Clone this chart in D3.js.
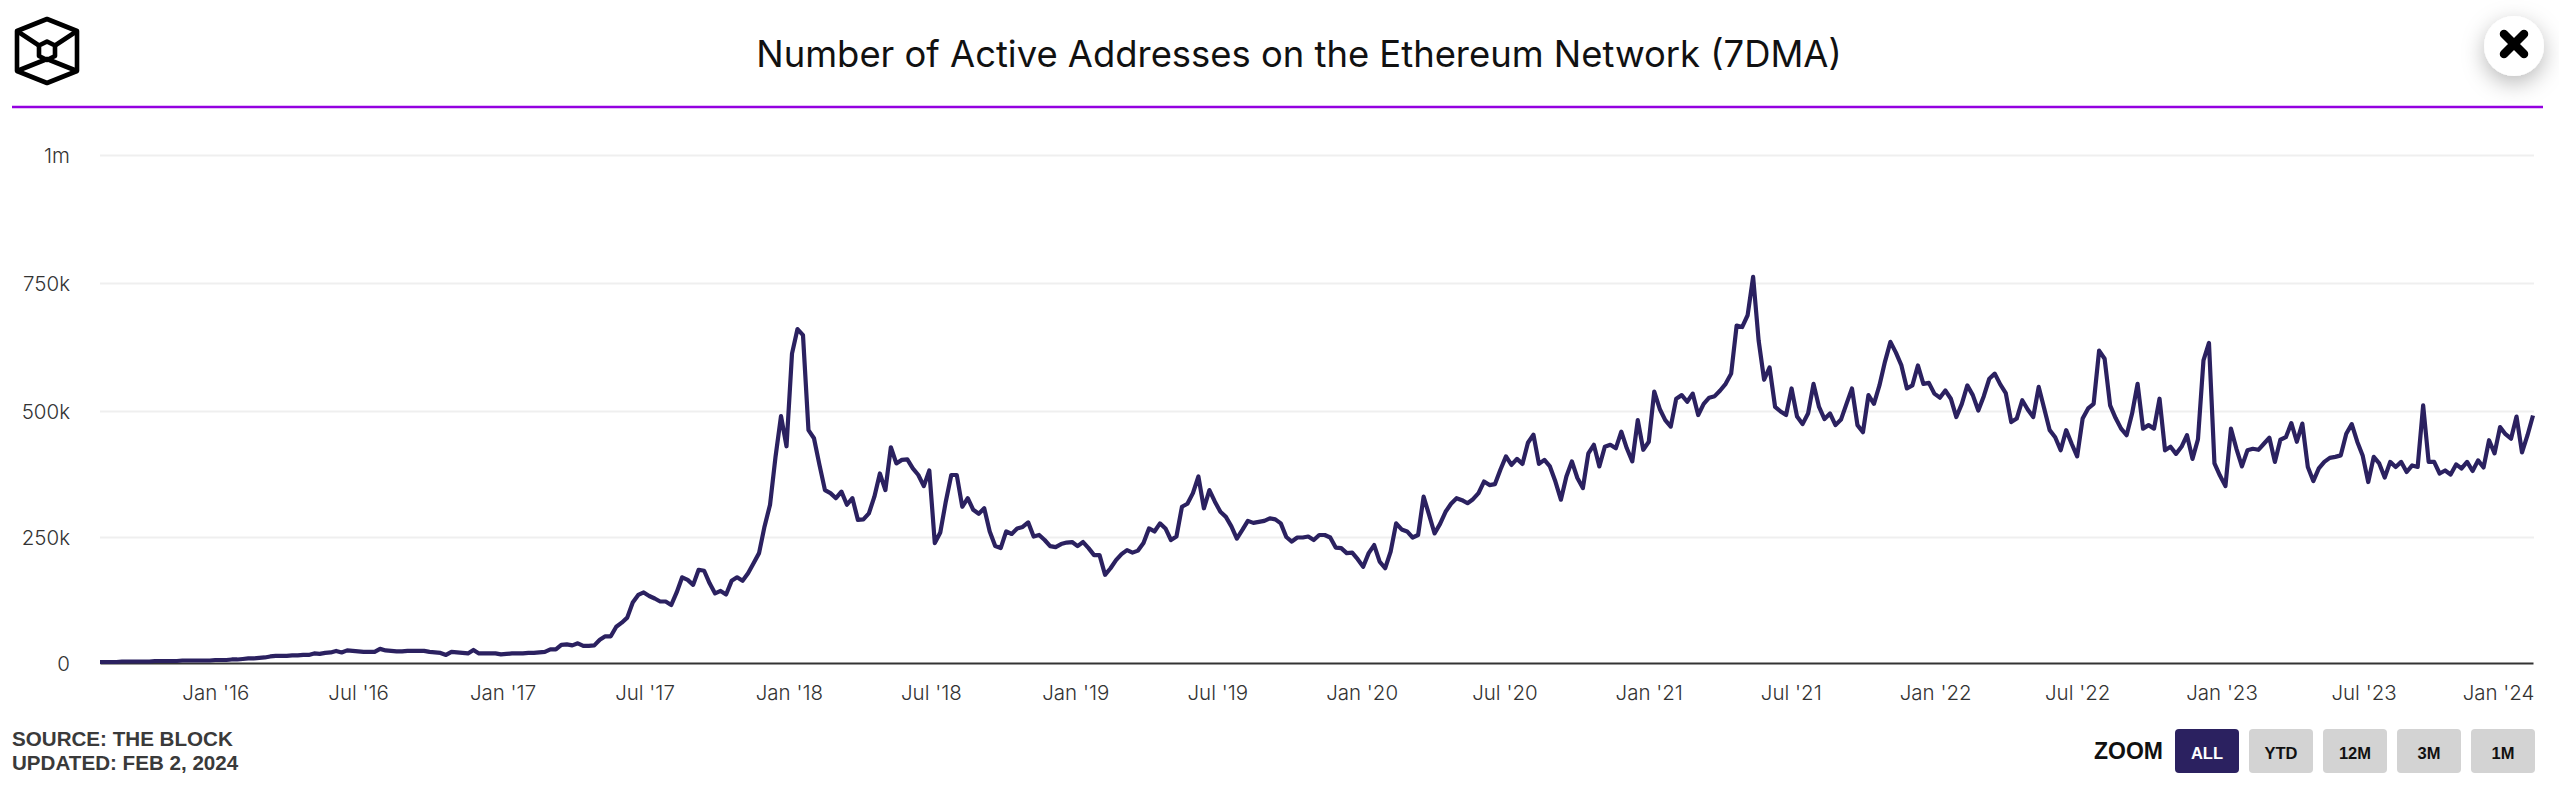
<!DOCTYPE html>
<html>
<head>
<meta charset="utf-8">
<script src="https://cdn.jsdelivr.net/npm/d3@7"></script>
<style>
    html, body { margin: 0; padding: 0; background: #fff; }
    svg { display: block; }
    .x-axis text, .y-axis text { font-family: "Inter", sans-serif; font-weight: 300; font-size: 20.5px; fill: #333; }
</style>
</head>
<body>
<div id="chart"></div>
<script>
// Weekly readings of the 7DMA, in thousands of addresses
const activeAddresses = [
    2,2,2,2,3,3,3,3,3,3,4,4,4,4,4,5,5,5,5,5,
    5,6,6,6,7,7,8,9,9,10,11,13,14,14,14,15,15,16,16,19,
    18,20,21,24,21,25,24,23,22,22,22,28,25,24,23,23,24,24,24,24,
    22,21,20,16,22,21,20,19,26,19,19,19,19,17,18,19,19,19,20,20,
    21,22,27,27,36,37,35,39,34,34,35,46,53,53,72,80,90,120,135,140,
    133,128,122,122,115,140,170,165,155,185,183,158,138,143,136,163,170,163,178,198,
    218,271,314,409,490,430,612,660,648,462,446,393,343,337,327,340,314,327,284,285,
    297,330,376,343,428,396,403,404,386,373,351,382,238,259,320,373,373,310,327,304,
    296,307,261,232,228,261,256,267,270,279,251,254,244,232,230,236,239,240,232,240,
    228,214,214,175,188,204,216,224,219,223,238,267,261,277,267,244,251,310,316,337,
    370,307,343,320,300,290,271,247,264,282,278,280,282,287,285,277,250,241,249,249,
    251,244,254,254,249,229,228,218,219,206,191,218,234,201,188,221,277,265,261,249,
    254,330,294,257,276,300,316,327,323,317,325,337,360,353,355,384,410,393,405,395,
    437,453,395,403,390,360,324,370,400,367,347,416,433,390,429,433,426,459,426,400,
    482,423,439,538,504,482,469,524,531,518,534,492,514,526,529,540,553,573,667,664,
    687,762,638,561,585,508,499,492,544,489,474,495,553,508,484,495,472,483,514,544,
    472,458,531,514,550,596,635,614,589,544,550,589,553,555,534,526,540,524,488,514,
    550,531,501,529,563,573,552,535,478,485,521,503,488,547,505,462,448,422,462,435,
    410,485,505,514,618,602,511,486,465,452,495,553,465,472,465,524,422,429,415,429,
    452,405,444,599,633,396,372,351,465,425,390,422,425,423,435,447,399,443,448,476,
    439,475,389,361,386,399,407,409,412,455,474,439,411,359,409,396,368,399,389,399,
    379,392,389,511,399,399,376,382,374,394,386,399,381,402,388,442,416,468,454,445,
    489,418,452,491
];

const yTicks = [0, 250, 500, 750, 1000];
const yTickLabels = ["0", "250k", "500k", "750k", "1m"];
const xTickDates = [
    "2016-01-01", "2016-07-01", "2017-01-01", "2017-07-01", "2018-01-01", "2018-07-01",
    "2019-01-01", "2019-07-01", "2020-01-01", "2020-07-01", "2021-01-01", "2021-07-01",
    "2022-01-01", "2022-07-01", "2023-01-01", "2023-07-01", "2024-01-01"
];
const zoomButtons = ["ALL", "YTD", "12M", "3M", "1M"];

// Define color constants
const LINE_COLOR = "#2b2160";
const RULE_COLOR = "#9400e0";
const GRID_COLOR = "#efefef";
const AXIS_COLOR = "#333333";
const BUTTON_COLOR = "#d3d3d3";

const width = 2559, height = 798;
const plotLeft = 100, plotRight = 2533, plotTop = 155, plotBottom = 663;

const weeks = d3.utcFriday.range(new Date(Date.UTC(2015, 7, 7)), new Date(Date.UTC(2024, 1, 3)));

var svg = d3.select("#chart")
    .append("svg")
    .attr("width", width)
    .attr("height", height);

var defs = svg.append("defs");
var shadow = defs.append("filter").attr("id", "btn-shadow")
    .attr("x", "-60%").attr("y", "-60%").attr("width", "220%").attr("height", "220%");
shadow.append("feDropShadow")
    .attr("dx", 0).attr("dy", 7).attr("stdDeviation", 11)
    .attr("flood-color", "#000").attr("flood-opacity", 0.28);

var xScale = d3.scaleUtc()
    .domain([weeks[0], weeks[weeks.length - 1]])
    .range([plotLeft, plotRight]);

// the gridlines in the picture are not quite evenly spaced
var yScale = d3.scaleLinear()
    .domain(yTicks)
    .range([plotBottom, 537, 411, 283, plotTop]);

// y axis + gridlines
var yAxis = svg.append("g")
    .attr("class", "y-axis")
    .attr("transform", `translate(${plotLeft}, 0)`)
    .call(d3.axisLeft(yScale)
        .tickValues(yTicks.slice(1))
        .tickSize(-(plotRight + 1 - plotLeft))
        .tickPadding(30)
        .tickFormat(d => yTickLabels[yTicks.indexOf(d)]));
yAxis.select(".domain").remove();
yAxis.selectAll("line").attr("stroke", GRID_COLOR).attr("stroke-width", 2);
yAxis.selectAll("text").attr("dy", "0.38em");

svg.append("text")
    .attr("class", "y-zero")
    .attr("x", 70)
    .attr("y", 671)
    .attr("text-anchor", "end")
    .style("font-family", "Inter, sans-serif")
    .style("font-weight", 300)
    .style("font-size", "20.5px")
    .style("fill", "#333")
    .text(yTickLabels[0]);

// x axis
var xAxis = svg.append("g")
    .attr("class", "x-axis")
    .attr("transform", `translate(0, ${plotBottom})`)
    .call(d3.axisBottom(xScale)
        .tickValues(xTickDates.map(d => new Date(d)))
        .tickSize(0)
        .tickPadding(22)
        .tickFormat(d3.utcFormat("%b '%y")));
xAxis.select(".domain")
    .attr("stroke", AXIS_COLOR)
    .attr("stroke-width", 2);

// last label gets pushed in so it stops at the plot edge
xAxis.selectAll(".tick").filter((d, i) => i === xTickDates.length - 1)
    .select("text")
    .attr("text-anchor", "end")
    .attr("x", d => plotRight + 1 - xScale(d));

var line = d3.line()
    .x((d, i) => xScale(weeks[i]))
    .y(d => yScale(d));

svg.append("path")
    .datum(activeAddresses)
    .attr("fill", "none")
    .attr("stroke", LINE_COLOR)
    .attr("stroke-width", 4.2)
    .attr("stroke-linejoin", "round")
    .attr("d", line);

// header
svg.append("text")
    .attr("x", 1299)
    .attr("y", 67)
    .attr("text-anchor", "middle")
    .style("font-family", "Inter, sans-serif")
    .style("font-weight", 400)
    .style("font-size", "36.4px")
    .style("fill", "#111")
    .text("Number of Active Addresses on the Ethereum Network (7DMA)");

svg.append("line")
    .attr("x1", 12).attr("x2", 2543)
    .attr("y1", 107).attr("y2", 107)
    .attr("stroke", RULE_COLOR)
    .attr("stroke-width", 2.4);

// logo
var logo = svg.append("g")
    .attr("fill", "none")
    .attr("stroke", "#000")
    .attr("stroke-width", 4.6)
    .attr("stroke-linejoin", "round");
logo.append("path").attr("d", "M47,19 L77,31 L77,71 L47,83 L17,71 L17,31 Z");
logo.append("path").attr("d", "M47,41.5 L55,45.5 L55,56 L47,60 L39,56 L39,45.5 Z");
logo.append("path").attr("d", "M17,31 L39,45.5 M77,31 L55,45.5 M17,71 L47,59 L77,71");

// close button
svg.append("circle")
    .attr("cx", 2514).attr("cy", 46).attr("r", 30)
    .attr("fill", "#fff")
    .attr("filter", "url(#btn-shadow)");
svg.append("path")
    .attr("d", "M2504,34 L2524,54 M2524,34 L2504,54")
    .attr("stroke", "#000")
    .attr("stroke-width", 8.5)
    .attr("stroke-linecap", "round");

// source
["SOURCE: THE BLOCK", "UPDATED: FEB 2, 2024"].forEach((t, i) => {
    svg.append("text")
        .attr("x", 12)
        .attr("y", 746 + i * 23.5)
        .style("font-family", "'Liberation Sans', sans-serif")
        .style("font-weight", 700)
        .style("font-size", "20.6px")
        .style("fill", "#3a3a3a")
        .text(t);
});

// zoom buttons
svg.append("text")
    .attr("x", 2094)
    .attr("y", 759)
    .style("font-family", "'Liberation Sans', sans-serif")
    .style("font-weight", 700)
    .style("font-size", "23px")
    .style("fill", "#111")
    .text("ZOOM");

var buttonScale = d3.scaleBand()
    .domain(zoomButtons)
    .range([2175, 2535])
    .paddingInner(10 / 74);

var buttons = svg.selectAll(".zoom-btn")
    .data(zoomButtons)
    .enter()
    .append("g")
    .attr("class", "zoom-btn")
    .attr("transform", d => `translate(${buttonScale(d)}, 729)`);
buttons.append("rect")
    .attr("width", buttonScale.bandwidth())
    .attr("height", 44)
    .attr("rx", 4)
    .attr("fill", (d, i) => i === 0 ? LINE_COLOR : BUTTON_COLOR);
buttons.append("text")
    .attr("x", buttonScale.bandwidth() / 2)
    .attr("y", 30)
    .attr("text-anchor", "middle")
    .style("font-family", "'Liberation Sans', sans-serif")
    .style("font-weight", 700)
    .style("font-size", "16.5px")
    .style("fill", (d, i) => i === 0 ? "#fff" : "#111")
    .text(d => d);
</script>
</body>
</html>
